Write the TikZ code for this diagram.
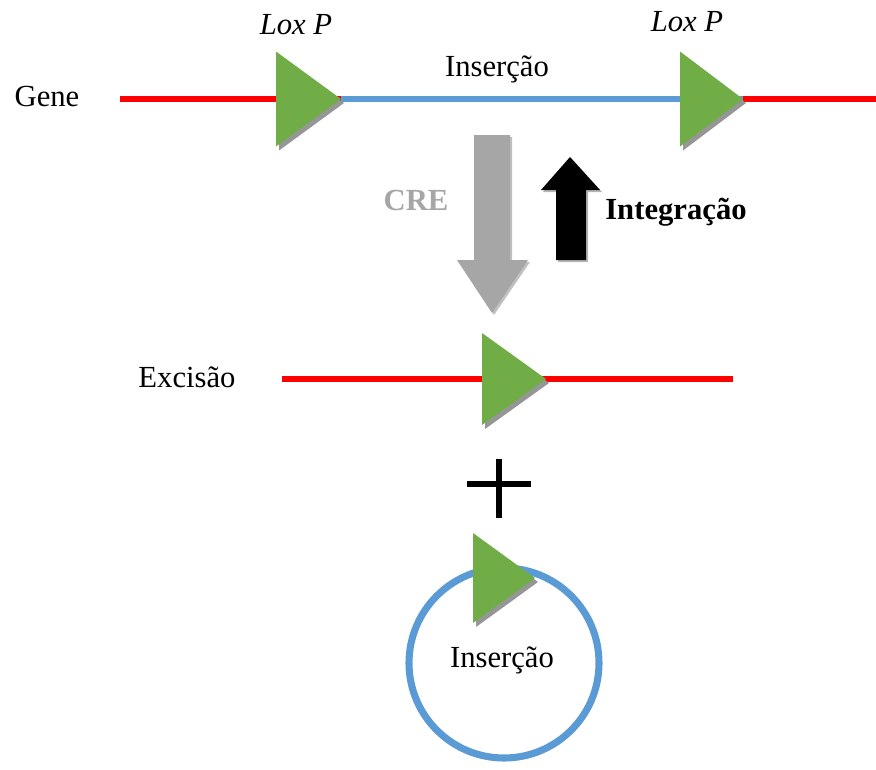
\documentclass[tikz,border=0pt]{standalone}
\usepackage{fontspec}
\setmainfont{Liberation Serif}
\usetikzlibrary{positioning}
\definecolor{genered}{RGB}{255,0,0}
\definecolor{insblue}{RGB}{91,155,213}
\definecolor{loxgreen}{RGB}{112,173,71}
\definecolor{cregray}{RGB}{166,166,166}
\definecolor{shadowgray}{RGB}{150,150,150}
\tikzset{
  txt/.style={inner sep=0.75pt,font=\fontsize{23}{27}\selectfont},
  redline/.style={draw=genered,line width=4.6pt},
  blueline/.style={draw=insblue,line width=4.6pt},
}

\begin{document}
\begin{tikzpicture}[x=0.75pt,y=0.75pt,yscale=-1,xscale=1]
\useasboundingbox (0,0) rectangle (876,769);

% Coordinates
\coordinate (geneL) at (120,99);
\coordinate (loxA) at (341,99);
\coordinate (loxB) at (743,99);
\coordinate (geneR) at (876,99);
\coordinate (excL) at (282,379);
\coordinate (loxC) at (546,379);
\coordinate (excR) at (733,379);
\coordinate (ring) at (504,663);
\coordinate (loxD) at (535,578);

%Shape: Lines
\draw [redline] (geneL) -- (loxA);
\draw [blueline] (loxA) -- (loxB);
\draw [redline] (loxB) -- (geneR);
\draw [redline] (excL) -- (excR);
%Shape: Circle
\draw [blueline,line width=5.3pt] (ring) circle [radius=95];

%Shape: Triangles
\foreach \p/\w/\h in {loxA/65/47.5,loxB/63/47.5,loxC/64/46,loxD/62/45}{
  \fill [shadowgray] ([shift={(3,4)}]\p) -- ++(-\w,\h) -- ++(0,-2*\h) -- cycle;
  \fill [loxgreen] (\p) -- ++(-\w,\h) -- ++(0,-2*\h) -- cycle;
}

%Shape: Arrows
\fill [shadowgray!60] (476,137) -- (512,137) -- (512,262) -- (530,262) -- (494,315) -- (459,262) -- (476,262) -- cycle;
\fill [cregray] (474,135) -- (510,135) -- (510,260) -- (528,260) -- (492,313) -- (457,260) -- (474,260) -- cycle;
\fill [shadowgray!70] (572,159) -- (602,192) -- (588,192) -- (588,262) -- (558,262) -- (558,192) -- (543,192) -- cycle;
\fill [black] (570,157) -- (600,190) -- (586,190) -- (586,260) -- (556,260) -- (556,190) -- (541,190) -- cycle;

%Shape: Plus
\draw [line width=4.5pt] (467,484) -- (531,484);
\draw [line width=4.5pt] (499,459) -- (499,518);

% Text Node
\node [txt] (gene) at (47,96) {Gene};
% Text Node
\node [txt] (loxpA) at (296,25) {\itshape Lox P};
% Text Node
\node [txt] (loxpB) at (687,22) {\itshape Lox P};
% Text Node
\node [txt] (insTop) at (497,69) {Inserção};
% Text Node
\node [txt,text=cregray] (cre) at (416,200) {\bfseries CRE};
% Text Node
\node [txt] (integ) at (676,212) {\bfseries Integração};
% Text Node
\node [txt] (exc) at (187,377) {Excisão};
% Text Node
\node [txt] (insRing) at (502,660) {Inserção};

\end{tikzpicture}
\end{document}
